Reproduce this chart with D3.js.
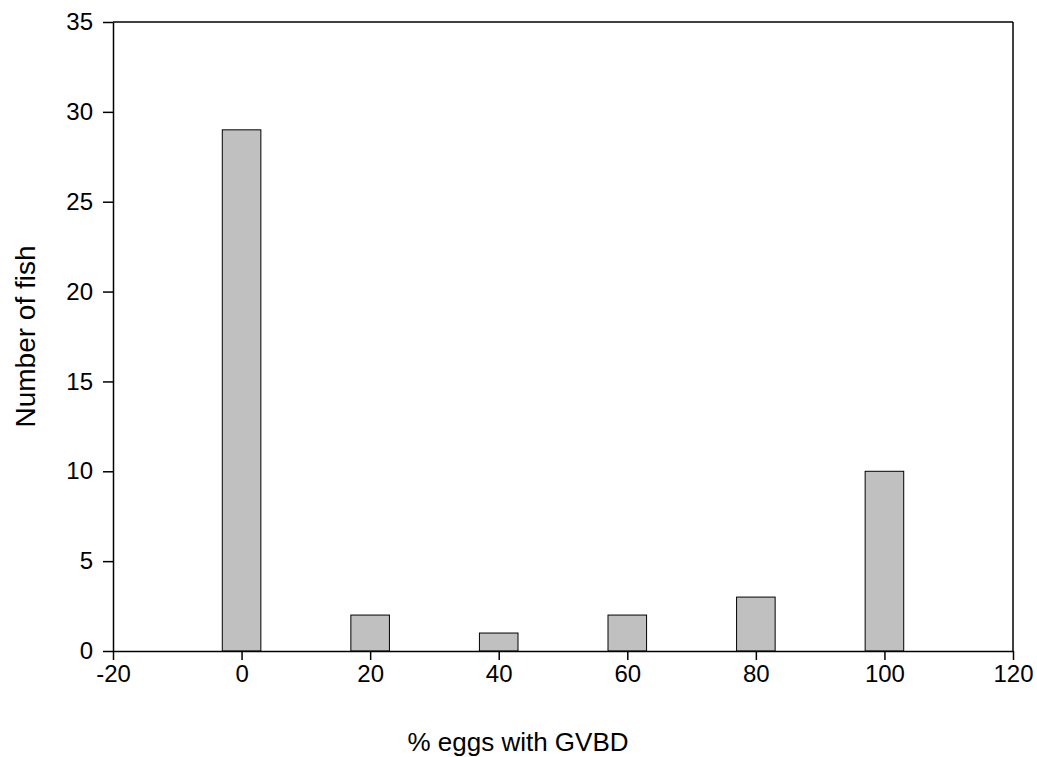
<!DOCTYPE html>
<html><head><meta charset="utf-8">
<script src="https://cdn.jsdelivr.net/npm/d3@7"></script>
<style>body{margin:0;background:#fff}svg{display:block}</style>
</head><body><svg id="c" width="1037" height="757"></svg>
<script>
const categories = [0, 20, 40, 60, 80, 100];
const counts = [29, 2, 1, 2, 3, 10];
const xTicks = [-20, 0, 20, 40, 60, 80, 100, 120];
const yTicks = [0, 5, 10, 15, 20, 25, 30, 35];
const barWidthUnits = 6;

const svg = d3.select("#c");
const L = 113, R = 1013, T = 22, B = 651;
const x = d3.scaleLinear().domain([-20, 120]).range([L, R]);
const y = d3.scaleLinear().domain([0, 35]).range([B, T]);
const font = "Liberation Sans, Arial, sans-serif";

svg.selectAll("rect.bar").data(categories).join("rect")
  .attr("class", "bar")
  .attr("x", d => x(d - barWidthUnits / 2))
  .attr("width", d => x(d + barWidthUnits / 2) - x(d - barWidthUnits / 2))
  .attr("y", (d, i) => y(counts[i]))
  .attr("height", (d, i) => y(0) - y(counts[i]))
  .attr("fill", "#c0c0c0").attr("stroke", "#000").attr("stroke-width", 1);

// frame
svg.append("line").attr("x1", L).attr("x2", R).attr("y1", T).attr("y2", T).attr("stroke", "#000").attr("stroke-width", 1.5);
svg.append("line").attr("x1", R).attr("x2", R).attr("y1", T).attr("y2", B).attr("stroke", "#000").attr("stroke-width", 1.5);

const fmt = d => String(d);
const xa = svg.append("g").attr("transform", `translate(0,${B})`)
  .call(d3.axisBottom(x).tickValues(xTicks).tickFormat(fmt).tickSize(9).tickPadding(5).tickSizeOuter(0));
const ya = svg.append("g").attr("transform", `translate(${L},0)`)
  .call(d3.axisLeft(y).tickValues(yTicks).tickFormat(fmt).tickSize(10).tickPadding(10).tickSizeOuter(0));
[xa, ya].forEach(g => {
  g.attr("font-size", null).attr("font-family", null);
  g.select(".domain").attr("stroke-width", 1.5);
  g.selectAll(".tick line").attr("stroke-width", 1.5);
  g.selectAll("text").style("font-family", font).style("font-size", "24px").attr("fill", "#000");
});

svg.append("text").attr("x", 518).attr("y", 751).attr("text-anchor", "middle")
  .style("font-family", font).style("font-size", "26px").text("% eggs with GVBD");
svg.append("text").attr("transform", `translate(35,${(T + B) / 2}) rotate(-90)`).attr("text-anchor", "middle")
  .style("font-family", font).style("font-size", "28px").text("Number of fish");
</script></body></html>
